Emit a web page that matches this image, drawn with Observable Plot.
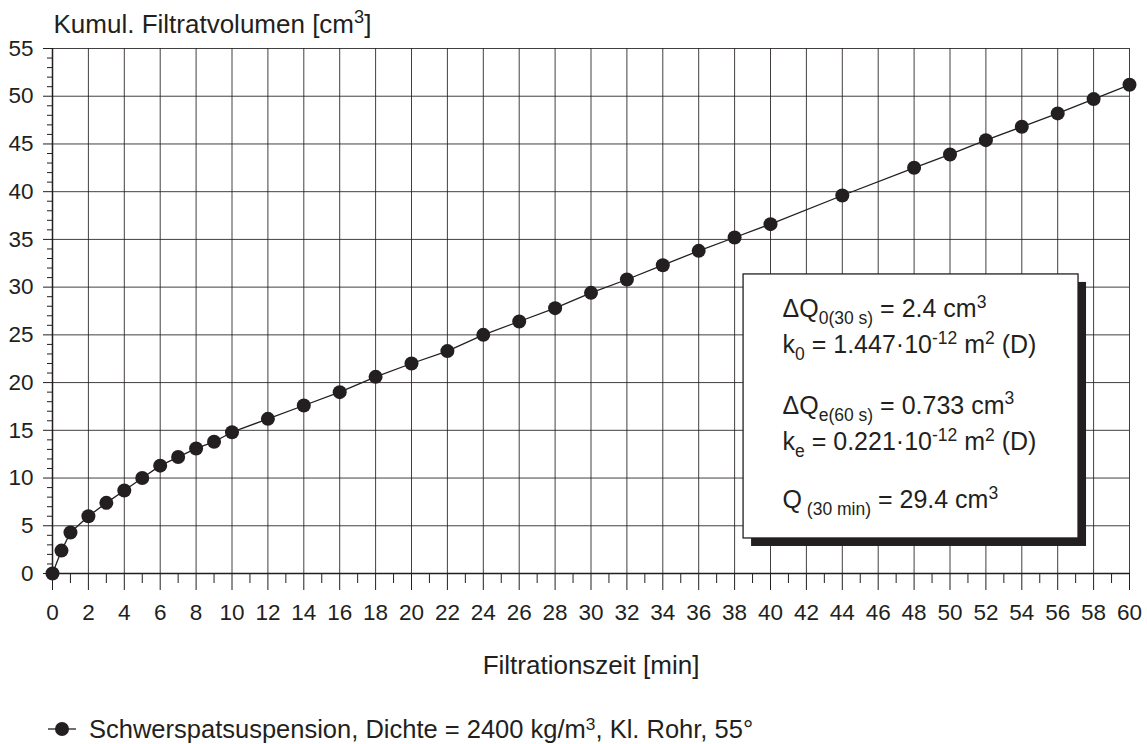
<!DOCTYPE html>
<html>
<head>
<meta charset="utf-8">
<script src="https://cdn.jsdelivr.net/npm/d3@7"></script>
<script src="https://cdn.jsdelivr.net/npm/@observablehq/plot@0.6"></script>
<style>
  html, body { margin: 0; padding: 0; background: #fff; }
  #wrap { position: relative; width: 1147px; height: 744px; font-family: "Liberation Sans", Arial, sans-serif; color: #231f20; }
  #chart svg { display: block; }
  #legend { position: absolute; left: 48px; top: 716px; height: 26px; display: flex; align-items: center; font-size: 25.5px; white-space: nowrap; }
  #legend svg { display: block; margin-right: 13px; }
  sup { font-size: 0.68em; vertical-align: 0; position: relative; top: -0.42em; }
</style>
</head>
<body>
<div id="wrap">
  <div id="chart"></div>
  <div id="legend"></div>
</div>
<script>
// ---- data ----
const minutes = [0, 0.5, 1, 2, 3, 4, 5, 6, 7, 8, 9, 10, 12, 14, 16, 18, 20, 22, 24, 26, 28, 30, 32, 34, 36, 38, 40, 44, 48, 50, 52, 54, 56, 58, 60];
const volume  = [0, 2.4, 4.3, 6.0, 7.4, 8.7, 10.0, 11.3, 12.2, 13.1, 13.8, 14.8, 16.2, 17.6, 19.0, 20.6, 22.0, 23.3, 25.0, 26.4, 27.8, 29.4, 30.8, 32.3, 33.8, 35.2, 36.6, 39.6, 42.5, 43.9, 45.4, 46.8, 48.2, 49.7, 51.2];

const xTicks = d3.range(0, 61, 2);
const xMinorTicks = d3.range(1, 60, 2);
const yTicks = d3.range(0, 56, 5);
const yMinorTicks = d3.range(0, 56, 1).filter(v => v % 5 !== 0);

const yTitle = "Kumul. Filtratvolumen [cm^{3}]";
const xTitle = "Filtrationszeit [min]";
const seriesName = "Schwerspatsuspension, Dichte = 2400 kg/m<sup>3</sup>, Kl. Rohr, 55°";

const boxLines = [
  "ΔQ_{0(30 s)} = 2.4 cm^{3}",
  "k_{0} = 1.447·10^{-12} m^{2} (D)",
  "ΔQ_{e(60 s)} = 0.733 cm^{3}",
  "k_{e} = 0.221·10^{-12} m^{2} (D)",
  "Q_{ (30 min)} = 29.4 cm^{3}"
];
const boxLineY = [26.82, 23.05, 16.76, 12.89, 6.81];

const ink = "#231f20";
const data = minutes.map((m, i) => ({m, v: volume[i]}));

const chart = Plot.plot({
  width: 1147,
  height: 690,
  marginLeft: 52,
  marginRight: 18,
  marginTop: 48,
  marginBottom: 117,
  x: {domain: [0, 60], label: null},
  y: {domain: [0, 55], label: null},
  style: {fontFamily: "'Liberation Sans', Arial, sans-serif", color: ink, background: "#fff"},
  marks: [
    Plot.gridX(xTicks, {stroke: ink, strokeOpacity: 0.85, strokeWidth: 1}),
    Plot.gridY(yTicks, {stroke: ink, strokeOpacity: 0.85, strokeWidth: 1}),
    Plot.axisX({ticks: xTicks, tickSize: 17, tickPadding: 14, fontSize: 22.5, stroke: ink, fill: ink, label: null}),
    Plot.axisX({ticks: xMinorTicks, tickSize: 10, tickFormat: () => "", stroke: ink, label: null}),
    Plot.axisY({ticks: yTicks, tickSize: 9, tickPadding: 10, fontSize: 22.5, stroke: ink, fill: ink, label: null}),
    Plot.axisY({ticks: yMinorTicks, tickSize: 5, tickFormat: () => "", stroke: ink, label: null}),
    Plot.ruleY([0], {stroke: ink, strokeWidth: 1.5}),
    Plot.ruleX([0], {stroke: ink, strokeWidth: 1.5}),
    // annotation box (shadow + box)
    Plot.rect([0], {x1: 38.5, x2: 57.16, y1: 3.67, y2: 31.33, fill: ink, dx: 8, dy: 8}),
    Plot.rect([0], {x1: 38.5, x2: 57.16, y1: 3.67, y2: 31.33, fill: "#fff", stroke: ink, strokeWidth: 1.3}),
    Plot.text(boxLines, {x: 40.67, y: (d, i) => boxLineY[i], text: d => d, textAnchor: "start", lineAnchor: "bottom", fontSize: 25, fill: ink}),
    // series
    Plot.line(data, {x: "m", y: "v", stroke: ink, strokeWidth: 1.3}),
    Plot.dot(data, {x: "m", y: "v", r: 7, fill: ink, stroke: "none"}),
    // titles
    Plot.text([yTitle], {frameAnchor: "top-left", dx: 1, dy: -16, textAnchor: "start", lineAnchor: "bottom", fontSize: 26, fill: ink}),
    Plot.text([xTitle], {frameAnchor: "bottom", dy: 100, lineAnchor: "bottom", fontSize: 26, fill: ink})
  ]
});

document.getElementById("chart").appendChild(chart);

// rich text: ^{...} superscript, _{...} subscript
const svgNS = "http://www.w3.org/2000/svg";
function rich(el) {
  const s = el.textContent;
  if (!/[_^]\{/.test(s)) return;
  const F = parseFloat(getComputedStyle(el).fontSize) || 20;
  const parts = [];
  const re = /([_^])\{([^}]*)\}/g;
  let last = 0, m;
  while ((m = re.exec(s))) {
    if (m.index > last) parts.push({t: s.slice(last, m.index), k: 0});
    parts.push({t: m[2], k: m[1] === "^" ? 1 : -1});
    last = re.lastIndex;
  }
  if (last < s.length) parts.push({t: s.slice(last), k: 0});
  el.textContent = "";
  el.setAttribute("xml:space", "preserve");
  el.style.whiteSpace = "pre";
  let cur = 0;
  for (const p of parts) {
    const off = p.k === 1 ? -0.38 * F : p.k === -1 ? 0.28 * F : 0;
    const ts = document.createElementNS(svgNS, "tspan");
    if (off - cur !== 0) ts.setAttribute("dy", off - cur);
    cur = off;
    if (p.k) ts.setAttribute("font-size", 0.7 * F);
    ts.textContent = p.t;
    el.appendChild(ts);
  }
}
chart.querySelectorAll("text").forEach(rich);

// legend
const leg = document.getElementById("legend");
leg.innerHTML =
  `<svg width="28" height="16"><line x1="0" x2="28" y1="8" y2="8" stroke="${ink}" stroke-width="1.3"></line>` +
  `<circle cx="14" cy="8" r="7" fill="${ink}"></circle></svg><span>${seriesName}</span>`;
</script>
</body>
</html>
